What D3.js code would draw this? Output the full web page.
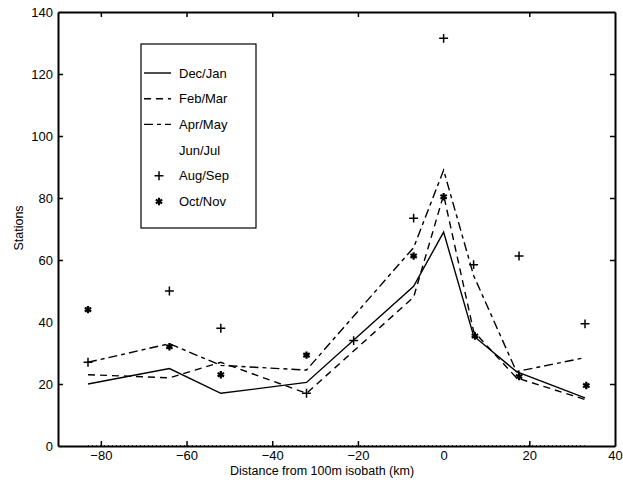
<!DOCTYPE html>
<html>
<head>
<meta charset="utf-8">
<script src="https://cdn.jsdelivr.net/npm/d3@7"></script>
<style>
  body { margin: 0; background: #fff; }
  text { font-family: "Liberation Sans", Arial, Helvetica, sans-serif; fill: #000; }
  .axis path, .axis line { stroke: #000; }
  .axis path { stroke-width: 2; }
  .axis line { stroke-width: 1.5; }
</style>
</head>
<body>
<div id="chart"></div>
<script>
// distance from the 100 m isobath (km), one per station line
const distance = [-83, -64, -52, -32, -7, 0, 7, 17, 33]

// line series (stations per season)
const decJan = [20, 25, 17, 20.5, 51.5, 69, 35.5, 24, 15.5]
const febMar = [23, 22, 27, 17, 48, 81, 37, 22, 15]
const aprMay = [27, 33, 26, 24.5, 64, 89, 55, 24, 28.5]
const junJul = [0, 0, 0, 0, 0, 0, 0, 0, 0]

// marker series
const augSepX = [-83, -64, -52, -32, -21, -7, 0, 7, 17.6, 33]
const augSep = [27, 50, 38, 17, 34, 73.5, 131.5, 58.5, 61.3, 39.4]
const octNovX = [-83, -64, -52, -32, -7, 0, 7.3, 17.6, 33.3]
const octNov = [44, 32, 23, 29.3, 61.3, 80.4, 35.5, 22.4, 19.5]

const xTicks = [-80, -60, -40, -20, 0, 20, 40]
const yTicks = [0, 20, 40, 60, 80, 100, 120, 140]

const width = 623, height = 487
const x = d3.scaleLinear().domain([-90, 40]).range([58, 615])
const y = d3.scaleLinear().domain([0, 140]).range([446, 12])

const svg = d3.select('#chart').append('svg')
  .attr('width', width)
  .attr('height', height)

// lines first, so the frame sits on top of the zero series
const lineSeries = [
  { name: 'Dec/Jan', values: decJan, dash: null },
  { name: 'Feb/Mar', values: febMar, dash: '7,5' },
  { name: 'Apr/May', values: aprMay, dash: '9,4,4,4' },
  { name: 'Jun/Jul', values: junJul, dash: '1,3' }
]
const line = d3.line()
  .x((d, i) => x(distance[i]))
  .y(d => y(d))

svg.selectAll('path.series')
  .data(lineSeries)
  .enter().append('path')
    .attr('class', 'series')
    .attr('fill', 'none')
    .attr('stroke', '#000')
    .attr('stroke-width', 1.4)
    .attr('stroke-dasharray', d => d.dash)
    .attr('d', d => line(d.values))

// axes, MATLAB style: ticks point inward on all four sides
svg.append('g')
  .attr('class', 'axis')
  .attr('transform', `translate(0,${y(0)})`)
  .call(d3.axisBottom(x).tickValues(xTicks).tickSizeInner(-5).tickSizeOuter(0).tickPadding(5))
svg.append('g')
  .attr('class', 'axis')
  .attr('transform', `translate(0,${y(140)})`)
  .call(d3.axisTop(x).tickValues(xTicks).tickSizeInner(-5).tickSizeOuter(0).tickFormat(''))
svg.append('g')
  .attr('class', 'axis')
  .attr('transform', `translate(${x(-90)},0)`)
  .call(d3.axisLeft(y).tickValues(yTicks).tickSizeInner(-5).tickSizeOuter(0).tickPadding(5))
svg.append('g')
  .attr('class', 'axis')
  .attr('transform', `translate(${x(40)},0)`)
  .call(d3.axisRight(y).tickValues(yTicks).tickSizeInner(-5).tickSizeOuter(0).tickFormat(''))

svg.selectAll('.axis text')
  .attr('fill', '#000')
  .style('font-size', '13px')
  .style('font-family', '"Liberation Sans", Arial, sans-serif')
// drop the tick marks that would sit on the frame corners
svg.selectAll('.axis .tick').filter(d => d == 40 || d == 0 || d == 140).select('line').remove()

svg.append('text')
  .attr('x', 322)
  .attr('y', 475)
  .attr('text-anchor', 'middle')
  .style('font-size', '12.5px')
  .text('Distance from 100m isobath (km)')

svg.append('text')
  .attr('transform', `translate(23,228) rotate(-90)`)
  .attr('text-anchor', 'middle')
  .style('font-size', '12.5px')
  .text('Stations')

// markers
const plus = d3.symbol(d3.symbolPlus, 28)
const star = d3.symbol(d3.symbolAsterisk, 38)

svg.selectAll('path.aug')
  .data(augSep)
  .enter().append('path')
    .attr('class', 'aug')
    .attr('transform', (d, i) => `translate(${x(augSepX[i])},${y(d)})`)
    .attr('d', plus)
    .attr('fill', 'none')
    .attr('stroke', '#000')
    .attr('stroke-width', 1.5)

svg.selectAll('path.oct')
  .data(octNov)
  .enter().append('path')
    .attr('class', 'oct')
    .attr('transform', (d, i) => `translate(${x(octNovX[i])},${y(d)})`)
    .attr('d', star)
    .attr('fill', 'none')
    .attr('stroke', '#000')
    .attr('stroke-width', 2.2)

// legend
const legend = svg.append('g').attr('transform', 'translate(141,44)')
legend.append('rect')
  .attr('width', 115)
  .attr('height', 184)
  .attr('fill', '#fff')
  .attr('stroke', '#000')
  .attr('stroke-width', 1.2)

const legendItems = [
  { name: 'Dec/Jan', type: 'line', dash: null },
  { name: 'Feb/Mar', type: 'line', dash: '7,5' },
  { name: 'Apr/May', type: 'line', dash: '9,4,4,4' },
  { name: 'Jun/Jul', type: 'line', dash: '1,3' },
  { name: 'Aug/Sep', type: 'plus' },
  { name: 'Oct/Nov', type: 'star' }
]
const li = legend.selectAll('g.item')
  .data(legendItems)
  .enter().append('g')
    .attr('class', 'item')
    .attr('transform', (d, i) => `translate(0,${29 + i * 25.7})`)

li.filter(d => d.type == 'line').append('line')
  .attr('x1', 3).attr('x2', 30)
  .attr('stroke', '#000')
  .attr('stroke-width', 1.4)
  .attr('stroke-dasharray', d => d.dash)
  .attr('stroke-opacity', d => d.name == 'Jun/Jul' ? 0 : 1)

li.filter(d => d.type == 'plus').append('path')
  .attr('transform', 'translate(18,0)')
  .attr('d', plus)
  .attr('fill', 'none')
  .attr('stroke', '#000')
  .attr('stroke-width', 1.5)

li.filter(d => d.type == 'star').append('path')
  .attr('transform', 'translate(18,0)')
  .attr('d', star)
  .attr('fill', 'none')
  .attr('stroke', '#000')
  .attr('stroke-width', 2.2)

li.append('text')
  .attr('x', 38)
  .attr('dy', '0.35em')
  .style('font-size', '13px')
  .text(d => d.name)
</script>
</body>
</html>
